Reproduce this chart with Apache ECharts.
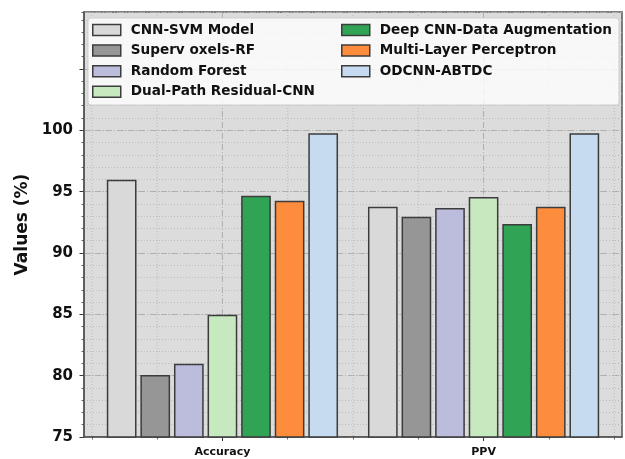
<!DOCTYPE html>
<html>
<head>
<meta charset="utf-8">
<script src="https://cdn.jsdelivr.net/npm/echarts@6/dist/echarts.min.js"></script>
<style>
  html, body { margin: 0; padding: 0; background: #ffffff; }
  #chart { width: 625px; height: 459px; }
</style>
</head>
<body>
<div id="chart"></div>
<script>
// Metric groups along the x axis
const categories = ['Accuracy', 'PPV'];

// Compared methods (one bar per method inside each group)
const methods = [
  'CNN-SVM Model',
  'Superv oxels-RF',
  'Random Forest',
  'Dual-Path Residual-CNN',
  'Deep CNN-Data Augmentation',
  'Multi-Layer Perceptron',
  'ODCNN-ABTDC'
];

// Scores in percent, same order as methods
const accuracy = [95.9, 80.0, 80.9, 84.9, 94.6, 94.2, 99.7];
const ppv      = [93.7, 92.9, 93.6, 94.5, 92.3, 93.7, 99.7];

// Axis ticks
const categoryTicks = [0, 1];
const minorXTicks = [-0.5, -0.25, 0.25, 0.5, 0.75, 1.25, 1.5];
const yTickLabels = [75, 80, 85, 90, 95, 100];
const yTickStep = 5;
const yMinorStep = 1;

const colors = ['#d9d9d9', '#969696', '#bcbddc', '#c7e9c0', '#31a354', '#fd8d3c', '#c6dbef'];
const EDGE = '#3c3c3c';
const FONT = 'DejaVu Sans';

const Y_MIN = 75, Y_MAX = 109.64;
const X_MIN = -0.53, X_MAX = 1.53;
const SLOT = 0.1286;   // spacing between neighbouring bars in a group
const BAR_W = 0.108;   // bar width in category units

const chart = echarts.init(document.getElementById('chart'), null, { renderer: 'canvas' });

function barRenderer(idx) {
  return function (params, api) {
    const cx = api.value(0) + (idx - (methods.length - 1) / 2) * SLOT;
    const top = api.coord([cx - BAR_W / 2, api.value(1)]);
    const bottom = api.coord([cx + BAR_W / 2, Y_MIN]);
    return {
      type: 'rect',
      shape: { x: top[0], y: top[1], width: bottom[0] - top[0], height: bottom[1] - top[1] },
      style: { fill: colors[idx], stroke: EDGE, lineWidth: 1.5 }
    };
  };
}

// Vertical grid lines: dash-dot at the groups, dotted in between
const vGridSeries = {
  type: 'custom',
  silent: true,
  z: 1,
  xAxisIndex: 0,
  yAxisIndex: 0,
  data: categoryTicks.map(v => [v, 1]).concat(minorXTicks.map(v => [v, 0])),
  renderItem: function (params, api) {
    const x = api.value(0);
    const major = api.value(1) === 1;
    const a = api.coord([x, Y_MAX]);
    const b = api.coord([x, Y_MIN]);
    return {
      type: 'line',
      shape: { x1: a[0], y1: a[1], x2: b[0], y2: b[1] },
      style: major
        ? { stroke: '#a8a8a8', lineWidth: 0.9, lineDash: [6, 2, 1, 2] }
        : { stroke: '#b4b4b4', lineWidth: 0.8, lineDash: [1, 2] }
    };
  }
};

const barSeries = methods.map((name, i) => ({
  type: 'custom',
  name: name,
  xAxisIndex: 0,
  yAxisIndex: 0,
  z: 2,
  itemStyle: { color: colors[i], borderColor: EDGE, borderWidth: 1.5 },
  data: [[0, accuracy[i]], [1, ppv[i]]],
  renderItem: barRenderer(i)
}));

const legendCommon = {
  orient: 'vertical',
  top: 22,
  padding: 0,
  itemWidth: 28,
  itemHeight: 11,
  itemGap: 4.6,
  icon: 'rect',
  selectedMode: false,
  itemStyle: { borderColor: EDGE, borderWidth: 1.5 },
  textStyle: {
    fontFamily: FONT, fontWeight: 'bold', fontSize: 13.6, color: '#111',
    lineHeight: 16, padding: [0, 0, 0, 5]
  }
};

const option = {
  backgroundColor: '#ffffff',
  animation: false,
  grid: {
    left: 84, right: 3, top: 12, bottom: 22,
    show: true,
    backgroundColor: '#dcdcdc',
    borderColor: '#555555',
    borderWidth: 1.5,
    containLabel: false,
    outerBoundsMode: 'none'
  },
  graphic: [{
    type: 'rect',
    z: 3,
    silent: true,
    shape: { x: 88, y: 18, width: 531, height: 87, r: 3 },
    style: { fill: 'rgba(255,255,255,0.8)', stroke: '#cfcfcf', lineWidth: 1 }
  }],
  legend: [
    Object.assign({ left: 92, data: methods.slice(0, 4) }, legendCommon),
    Object.assign({ left: 341, data: methods.slice(4) }, legendCommon)
  ],
  xAxis: [
    {
      type: 'value', min: X_MIN, max: X_MAX, position: 'bottom',
      axisLine: { show: true, onZero: false, lineStyle: { color: '#555555', width: 1.5 } },
      axisTick: { show: true, customValues: categoryTicks, length: 4, lineStyle: { color: '#333', width: 1 } },
      axisLabel: {
        customValues: categoryTicks,
        formatter: v => categories[Math.round(v)],
        fontFamily: FONT, fontWeight: 'bold', fontSize: 11, color: '#111', margin: 10
      },
      splitLine: { show: false }
    },
    {
      type: 'value', min: X_MIN, max: X_MAX, position: 'bottom',
      axisLine: { show: false, onZero: false },
      axisTick: { show: true, customValues: minorXTicks, length: 2.5, lineStyle: { color: '#444', width: 0.8 } },
      axisLabel: { show: false },
      splitLine: { show: false }
    }
  ],
  yAxis: [
    {
      type: 'value', min: Y_MIN, max: Y_MAX, interval: yTickStep, position: 'left',
      name: 'Values (%)', nameLocation: 'middle', nameGap: 44,
      nameTextStyle: { fontFamily: FONT, fontWeight: 'bold', fontSize: 17, color: '#111' },
      axisLine: { show: true, onZero: false, lineStyle: { color: '#555555', width: 1.5 } },
      axisTick: { show: true, length: 4.5, lineStyle: { color: '#333', width: 1 } },
      axisLabel: {
        fontFamily: FONT, fontWeight: 'bold', fontSize: 15, color: '#111', margin: 11,
        showMaxLabel: false,
        formatter: v => (yTickLabels.indexOf(v) >= 0 ? String(v) : '')
      },
      splitLine: { show: true, lineStyle: { color: '#a8a8a8', width: 0.9, type: [6, 2, 1, 2] } }
    },
    {
      type: 'value', min: Y_MIN, max: Y_MAX, interval: yMinorStep, position: 'left',
      axisLine: { show: false, onZero: false },
      axisTick: { show: true, length: 2.5, lineStyle: { color: '#444', width: 0.8 } },
      axisLabel: { show: false },
      splitLine: { show: true, lineStyle: { color: '#b4b4b4', width: 0.8, type: [1, 2] } }
    }
  ],
  series: [vGridSeries].concat(barSeries)
};

chart.setOption(option);
</script>
</body>
</html>
